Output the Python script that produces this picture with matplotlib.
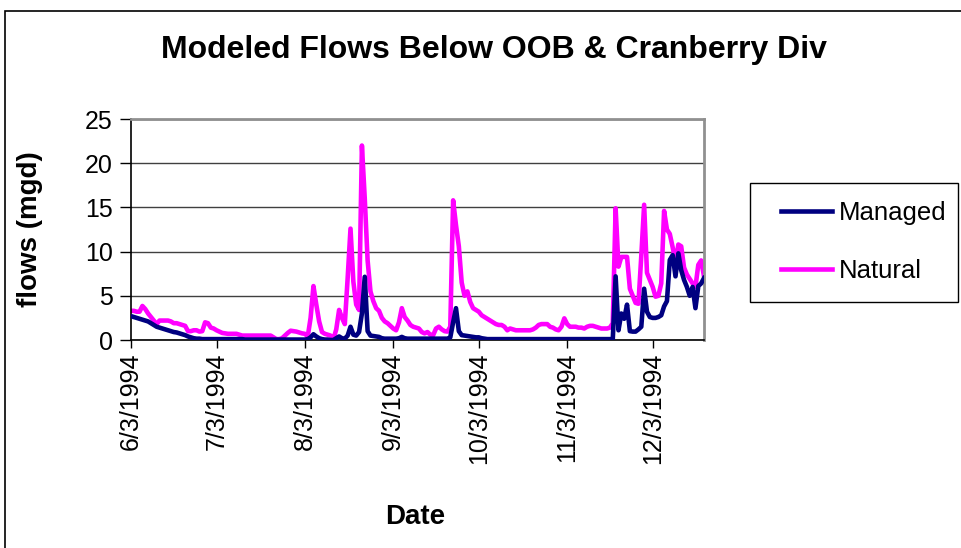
import numpy as np
import pandas as pd
import matplotlib
matplotlib.use("Agg")
import matplotlib.pyplot as plt
import matplotlib.dates as mdates
from matplotlib.patches import Rectangle

plt.rcParams['font.family'] = ['Liberation Sans', 'DejaVu Sans']

start_date = "1994-06-03"
n_days = 202

natural = [
    3.3, 3.3, 3.2, 3.2, 3.85, 3.5, 3.0, 2.6, 2.2, 1.8,
    2.2, 2.2, 2.2, 2.2, 2.1, 1.9, 1.9, 1.8, 1.7, 1.6,
    1.0, 1.0, 1.1, 1.1, 0.95, 1.0, 2.0, 1.9, 1.4, 1.3,
    1.1, 0.95, 0.8, 0.75, 0.7, 0.7, 0.7, 0.7, 0.6, 0.5,
    0.5, 0.5, 0.5, 0.5, 0.5, 0.5, 0.5, 0.5, 0.5, 0.5,
    0.3, 0.1, 0.1, 0.2, 0.5, 0.8, 1.05, 1.0, 0.95, 0.85,
    0.75, 0.7, 0.4, 2.5, 6.1, 4.0, 2.1, 0.9, 0.7, 0.6,
    0.5, 0.1, 1.2, 3.4, 2.5, 1.8, 7.0, 12.6, 6.6, 4.0,
    3.4, 22.0, 16.0, 9.0, 5.5, 4.4, 3.6, 3.3, 2.5, 2.1,
    1.9, 1.6, 1.3, 1.1, 2.0, 3.6, 2.6, 2.2, 1.7, 1.5,
    1.4, 1.3, 0.9, 0.75, 0.9, 0.6, 0.55, 1.3, 1.5, 1.2,
    1.0, 0.95, 1.5, 15.8, 13.0, 10.6, 6.5, 5.0, 5.5, 4.3,
    3.6, 3.4, 3.2, 2.8, 2.6, 2.4, 2.2, 2.0, 1.8, 1.7,
    1.7, 1.5, 1.1, 1.3, 1.2, 1.1, 1.1, 1.1, 1.1, 1.1,
    1.1, 1.2, 1.4, 1.7, 1.8, 1.8, 1.8, 1.5, 1.4, 1.2,
    1.1, 1.5, 2.45, 1.8, 1.5, 1.5, 1.5, 1.4, 1.4, 1.3,
    1.5, 1.6, 1.6, 1.5, 1.4, 1.3, 1.3, 1.3, 1.4, 1.9,
    14.9, 8.3, 9.4, 9.4, 9.4, 5.8, 5.0, 4.2, 4.1, 9.5,
    15.3, 7.6, 6.8, 6.0, 4.9, 5.0, 6.4, 14.6, 12.5, 12.0,
    10.5, 8.8, 10.8, 10.6, 8.2, 7.4, 6.9, 6.4, 6.0, 8.5,
    9.0, 7.2,
]

managed = [
    2.7, 2.6, 2.5, 2.4, 2.3, 2.2, 2.1, 1.9, 1.7, 1.5,
    1.4, 1.3, 1.2, 1.1, 1.0, 0.9, 0.85, 0.75, 0.65, 0.55,
    0.4, 0.3, 0.2, 0.15, 0.15, 0.1, 0.1, 0.1, 0.1, 0.1,
    0.1, 0.1, 0.1, 0.1, 0.1, 0.1, 0.1, 0.1, 0.1, 0.1,
    0.05, 0.05, 0.05, 0.05, 0.05, 0.05, 0.05, 0.05, 0.05, 0.05,
    0.05, 0.05, 0.05, 0.05, 0.05, 0.05, 0.05, 0.05, 0.05, 0.05,
    0.05, 0.05, 0.1, 0.3, 0.65, 0.4, 0.2, 0.1, 0.05, 0.05,
    0.0, 0.0, 0.2, 0.4, 0.2, 0.15, 0.5, 1.5, 0.6, 0.5,
    0.9, 3.0, 7.15, 1.0, 0.5, 0.45, 0.4, 0.35, 0.2, 0.15,
    0.15, 0.15, 0.15, 0.15, 0.2, 0.35, 0.2, 0.15, 0.15, 0.15,
    0.15, 0.15, 0.15, 0.15, 0.15, 0.15, 0.15, 0.15, 0.15, 0.15,
    0.15, 0.15, 0.3, 2.0, 3.6, 1.0, 0.55, 0.5, 0.45, 0.4,
    0.35, 0.3, 0.3, 0.2, 0.15, 0.1, 0.1, 0.1, 0.1, 0.1,
    0.1, 0.1, 0.1, 0.1, 0.1, 0.1, 0.1, 0.1, 0.1, 0.1,
    0.1, 0.1, 0.1, 0.1, 0.1, 0.1, 0.1, 0.1, 0.1, 0.1,
    0.1, 0.1, 0.1, 0.1, 0.1, 0.1, 0.1, 0.1, 0.1, 0.1,
    0.1, 0.1, 0.1, 0.1, 0.1, 0.1, 0.1, 0.1, 0.1, 0.1,
    7.2, 1.1, 3.0, 2.4, 4.0, 1.0, 0.95, 0.95, 1.2, 1.5,
    5.8, 3.2, 2.6, 2.5, 2.5, 2.6, 2.8, 3.8, 4.4, 9.05,
    9.6, 7.2, 9.8, 7.9, 6.8, 6.0, 5.0, 6.0, 3.6, 6.1,
    6.4, 7.0,
]

tick_dates = ["1994-06-03", "1994-07-03", "1994-08-03", "1994-09-03",
              "1994-10-03", "1994-11-03", "1994-12-03"]
tick_labels = ["6/3/1994", "7/3/1994", "8/3/1994", "9/3/1994",
               "10/3/1994", "11/3/1994", "12/3/1994"]
y_ticks = [0, 5, 10, 15, 20, 25]

dates = pd.date_range(start_date, periods=n_days, freq="D")

W, H = 961, 548
fig = plt.figure(figsize=(W / 100, H / 100), dpi=100)
fig.patch.set_facecolor("white")

ax = fig.add_axes([131 / W, 1 - 340 / H, 573 / W, 221 / H])
l1, = ax.plot(dates, managed, color="#000080", lw=3.3, solid_joinstyle="round", label="Managed", zorder=3)
l2, = ax.plot(dates, natural, color="#FF00FF", lw=3.3, solid_joinstyle="round", label="Natural", zorder=2)

ax.set_xlim(dates[0], dates[-1])
ax.set_ylim(0, 25)
ax.set_yticks(y_ticks)
ax.set_yticklabels([str(v) for v in y_ticks])
ax.set_xticks(pd.to_datetime(tick_dates))
ax.set_xticklabels(tick_labels, rotation=90, ha="center", va="top")
ax.tick_params(axis="both", labelsize=18, width=1, color="black", direction="out")
ax.tick_params(axis="x", length=6, pad=3)
ax.tick_params(axis="y", length=8, pad=5)
ax.yaxis.grid(True, color="#404040", lw=1)
ax.set_axisbelow(True)
for s in ["top", "right"]:
    ax.spines[s].set_color("#909090")
    ax.spines[s].set_linewidth(2)
for s in ["left", "bottom"]:
    ax.spines[s].set_color("black")
    ax.spines[s].set_linewidth(1.2)

fig.text(494 / W, 1 - 50 / H, "Modeled Flows Below OOB & Cranberry Div",
         ha="center", va="center", fontsize=23, fontweight="bold")
fig.text(30 / W, 1 - 229 / H, "flows (mgd)", ha="center", va="center",
         rotation=90, fontsize=20, fontweight="bold")
fig.text(415 / W, 1 - 517 / H, "Date", ha="center", va="center",
         fontsize=20, fontweight="bold")

# legend frame drawn separately, legend itself frameless
fig.add_artist(Rectangle((750 / W, 1 - 302 / H), 208 / W, 119 / H,
                         transform=fig.transFigure, fill=False,
                         edgecolor="black", lw=1))
leg = fig.legend(handles=[l1, l2], loc="upper left",
                 bbox_to_anchor=(781 / W, 1 - 201 / H),
                 frameon=False, fontsize=18.5, handlelength=2.0,
                 handletextpad=0.25, labelspacing=1.33, borderpad=0,
                 borderaxespad=0)

fig.add_artist(Rectangle((5 / W, -0.1), 2.0, 1 - 11 / H + 0.1, transform=fig.transFigure,
                         fill=False, edgecolor="black", lw=1.2))

fig.savefig("out.png", dpi=100)
